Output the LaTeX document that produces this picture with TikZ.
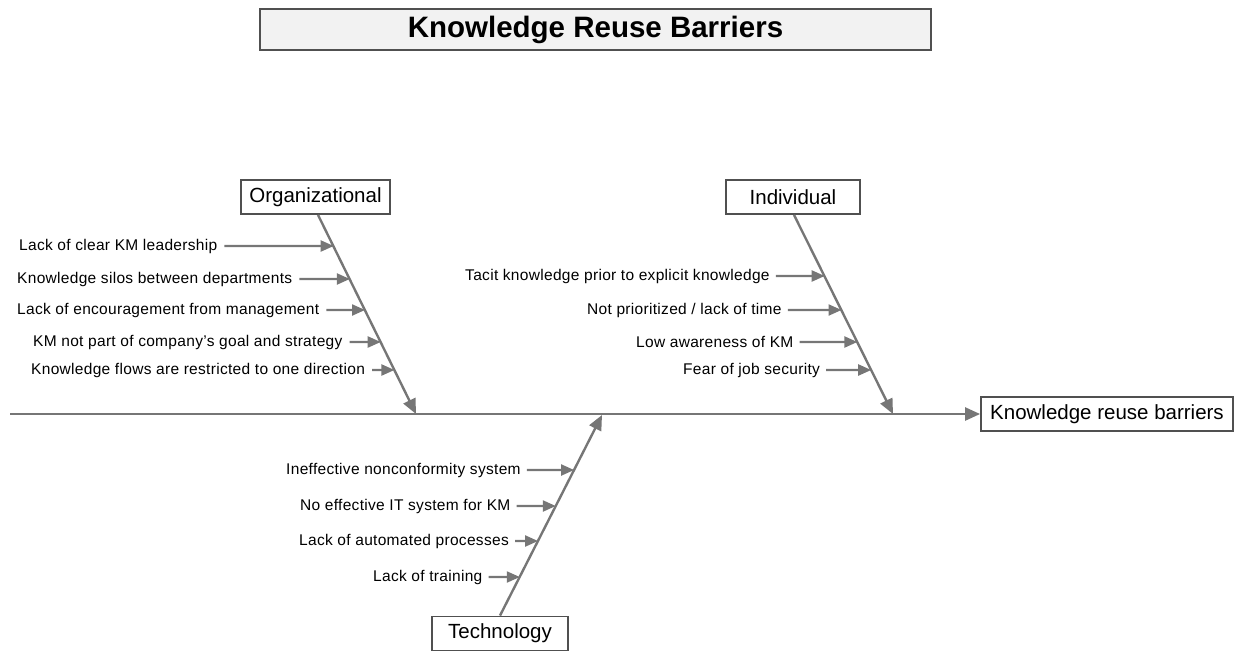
\documentclass[tikz,border=0pt]{standalone}
\usepackage{fontspec}
\setmainfont{Liberation Sans}
\usetikzlibrary{arrows.meta,calc}
\definecolor{bonegray}{HTML}{767676}
\definecolor{framegray}{HTML}{505050}
\definecolor{titlefill}{HTML}{F2F2F2}
\tikzset{
  spine/.style={draw=bonegray, line width=2.4pt, -{Triangle[length=15pt,width=13pt]}},
  twig/.style={draw=bonegray, line width=2.2pt, -{Triangle[length=13pt,width=11pt]}},
  catbox/.style={draw=framegray, line width=1.8pt, fill=white, minimum height=34pt,
    inner xsep=4pt, font=\fontsize{20.5}{23}\selectfont},
  cause/.style={anchor=west, inner sep=0pt,
    font=\fontsize{15.5}{18}\selectfont\addfontfeatures{LetterSpace=2}},
}
\begin{document}
\begin{tikzpicture}[x=1pt,y=-1pt]
\useasboundingbox (0,0) rectangle (1234,651);

% title banner
\node[draw=framegray, fill=titlefill, line width=1.2pt, minimum width=671pt,
      minimum height=41pt, font=\bfseries\fontsize{29.5}{34}\selectfont]
      (title) at (595.5,29.5) {Knowledge Reuse Barriers};

% category boxes and the effect box
\node[catbox, minimum width=149pt] (org)  at (315.5,197) {Organizational};
\node[catbox, minimum width=134pt] (ind)  at (793,197)   {Individual};
\node[catbox, minimum width=136pt] (tech) at (500,633.5) {Technology};
\node[catbox, minimum width=252pt] (eff)  at (1107,414)  {Knowledge reuse barriers};

% main spine
\coordinate (tail) at (10,414);
\draw[spine] (tail) -- (eff.west);

% category bones
\coordinate (otop) at (318,214);  \coordinate (obot) at (416,414);
\coordinate (itop) at (794,214);  \coordinate (ibot) at (893,414);
\coordinate (ttop) at (500,616);  \coordinate (tbot) at (602,415);
\draw[spine] (org.south -| otop) -- (obot);
\draw[spine] (ind.south -| itop) -- (ibot);
\draw[spine] (tech.north -| ttop) -- (tbot);

% organizational causes
\foreach \y/\x/\t [count=\i] in {
  246/19/{Lack of clear KM leadership},
  279/17/{Knowledge silos between departments},
  310/17/{Lack of encouragement from management},
  342/33/{KM not part of company’s goal and strategy},
  370/31/{Knowledge flows are restricted to one direction}} {
  \node[cause] (oc\i) at (\x,\y) {\t};
  \coordinate (ob\i) at ($(otop)!{(\y-214)/200}!(obot)$);
  \draw[twig] ([xshift=7pt]oc\i.east) -- (ob\i);
}

% individual causes
\foreach \y/\x/\t [count=\i] in {
  276/465/{Tacit knowledge prior to explicit knowledge},
  310/587/{Not prioritized / lack of time},
  342/636/{Low awareness of KM},
  370/683/{Fear of job security}} {
  \node[cause] (ic\i) at (\x,\y) {\t};
  \coordinate (ib\i) at ($(itop)!{(\y-214)/200}!(ibot)$);
  \draw[twig] ([xshift=6pt]ic\i.east) -- (ib\i);
}

% technology causes
\foreach \y/\x/\t [count=\i] in {
  470/286/{Ineffective nonconformity system},
  506/300/{No effective IT system for KM},
  541/299/{Lack of automated processes},
  577/373/{Lack of training}} {
  \node[cause] (tc\i) at (\x,\y) {\t};
  \coordinate (tb\i) at ($(ttop)!{(616-\y)/201}!(tbot)$);
  \draw[twig] ([xshift=6pt]tc\i.east) -- (tb\i);
}
\end{tikzpicture}
\end{document}
